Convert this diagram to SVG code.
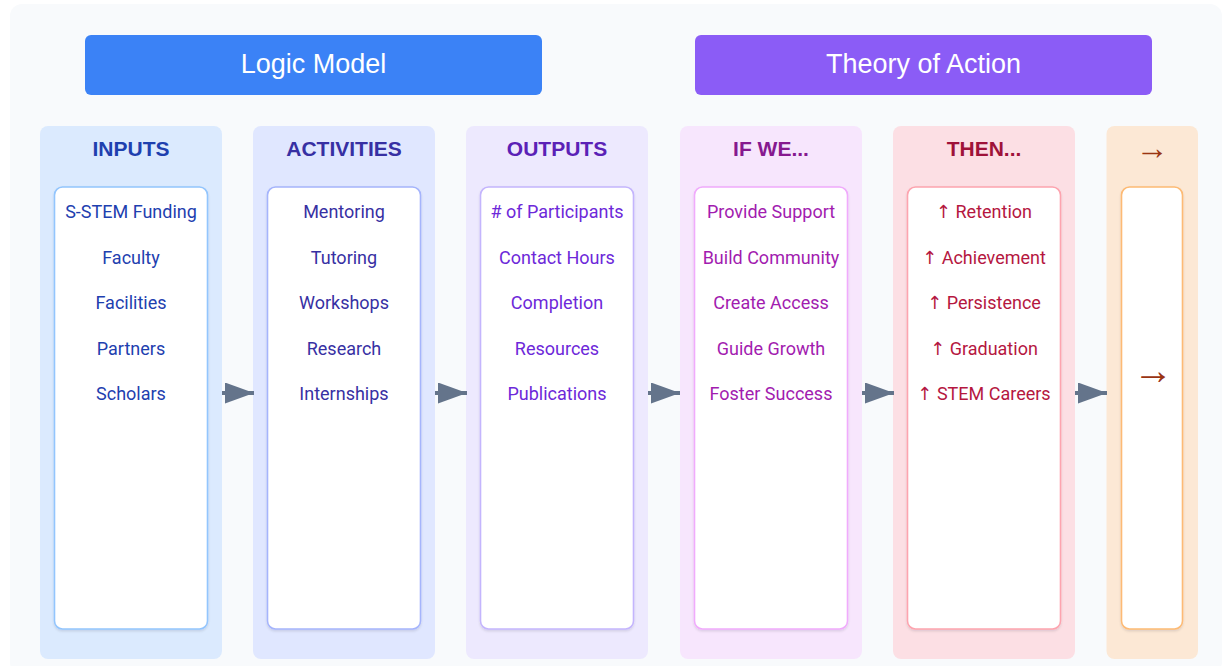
<svg xmlns="http://www.w3.org/2000/svg" width="1223" height="666" viewBox="0 0 1223 666">
  <defs>
    <marker id="arrowhead" markerUnits="userSpaceOnUse" markerWidth="30" markerHeight="21" refX="29" refY="10.5" orient="auto">
      <path d="M0,0 L29,10.5 L0,21 Z" fill="#64748b"/>
    </marker>
    <filter id="cardShadow" x="-10%" y="-5%" width="120%" height="110%">
      <feDropShadow dx="0" dy="1.5" stdDeviation="1" flood-color="#0f172a" flood-opacity="0.12"/>
    </filter>
  </defs>
  <style>
    .banner-text { font-family: "Liberation Sans", Arial, sans-serif; font-size: 27px; fill: #ffffff; text-anchor: middle; }
    .head { font-family: "Liberation Sans", Arial, sans-serif; font-size: 21px; font-weight: bold; text-anchor: middle; }
    .item { font-family: Roboto, "Noto Sans", "DejaVu Sans", sans-serif; font-size: 18px; text-anchor: middle; }
    .glyph-arrow { font-family: "Liberation Sans", Arial, sans-serif; text-anchor: middle; fill: #9a3412; }
    .panel { stroke: none; }
    .card { fill: #ffffff; stroke-width: 1.6; filter: url(#cardShadow); }
    .flow { stroke: #64748b; stroke-width: 4; fill: none; marker-end: url(#arrowhead); }
  </style>

  <!-- page -->
  <rect x="0" y="0" width="1223" height="666" fill="#ffffff"/>
  <rect x="10" y="4" width="1212" height="670" rx="12" fill="#f8fafc"/>

  <!-- section banners -->
  <g id="banner-logic-model">
    <rect x="85" y="35" width="457" height="60" rx="6" fill="#3b82f6"/>
    <text class="banner-text" x="313.5" y="73">Logic Model</text>
  </g>
  <g id="banner-theory-of-action">
    <rect x="695" y="35" width="457" height="60" rx="6" fill="#8b5cf6"/>
    <text class="banner-text" x="923.5" y="73">Theory of Action</text>
  </g>

  <!-- columns -->
  <g id="inputs">
    <rect class="panel" x="40" y="126" width="182" height="533" rx="8" fill="#dbeafe"/>
    <text class="head" x="131" y="156" fill="#1e40af">INPUTS</text>
    <rect class="card" x="54.5" y="187" width="153" height="442" rx="8" stroke="#93c5fd"/>
    <g class="item" fill="#1e40af">
      <text x="131" y="218">S-STEM Funding</text>
      <text x="131" y="263.5">Faculty</text>
      <text x="131" y="309">Facilities</text>
      <text x="131" y="354.5">Partners</text>
      <text x="131" y="400">Scholars</text>
    </g>
  </g>

  <g id="activities">
    <rect class="panel" x="253" y="126" width="182" height="533" rx="8" fill="#e0e7ff"/>
    <text class="head" x="344" y="156" fill="#3730a3">ACTIVITIES</text>
    <rect class="card" x="267.5" y="187" width="153" height="442" rx="8" stroke="#a5b4fc"/>
    <g class="item" fill="#3730a3">
      <text x="344" y="218">Mentoring</text>
      <text x="344" y="263.5">Tutoring</text>
      <text x="344" y="309">Workshops</text>
      <text x="344" y="354.5">Research</text>
      <text x="344" y="400">Internships</text>
    </g>
  </g>

  <g id="outputs">
    <rect class="panel" x="466" y="126" width="182" height="533" rx="8" fill="#ede9fe"/>
    <text class="head" x="557" y="156" fill="#5b21b6">OUTPUTS</text>
    <rect class="card" x="480.5" y="187" width="153" height="442" rx="8" stroke="#c4b5fd"/>
    <g class="item" fill="#6d28d9">
      <text x="557" y="218"># of Participants</text>
      <text x="557" y="263.5">Contact Hours</text>
      <text x="557" y="309">Completion</text>
      <text x="557" y="354.5">Resources</text>
      <text x="557" y="400">Publications</text>
    </g>
  </g>

  <g id="if-we">
    <rect class="panel" x="680" y="126" width="182" height="533" rx="8" fill="#f7e6fd"/>
    <text class="head" x="771" y="156" fill="#86198f">IF WE...</text>
    <rect class="card" x="694.5" y="187" width="153" height="442" rx="8" stroke="#f0abfc"/>
    <g class="item" fill="#a21caf">
      <text x="771" y="218">Provide Support</text>
      <text x="771" y="263.5">Build Community</text>
      <text x="771" y="309">Create Access</text>
      <text x="771" y="354.5">Guide Growth</text>
      <text x="771" y="400">Foster Success</text>
    </g>
  </g>

  <g id="then">
    <rect class="panel" x="893" y="126" width="182" height="533" rx="8" fill="#fcdfe4"/>
    <text class="head" x="984" y="156" fill="#9f1239">THEN...</text>
    <rect class="card" x="907.5" y="187" width="153" height="442" rx="8" stroke="#fda4af"/>
    <g class="item" fill="#b5173f">
      <text x="984" y="218">↑ Retention</text>
      <text x="984" y="263.5">↑ Achievement</text>
      <text x="984" y="309">↑ Persistence</text>
      <text x="984" y="354.5">↑ Graduation</text>
      <text x="984" y="400">↑ STEM Careers</text>
    </g>
  </g>

  <g id="outcome">
    <rect class="panel" x="1106.5" y="126" width="91.5" height="533" rx="8" fill="#fce8d5"/>
    <text class="glyph-arrow" x="1152" y="158.5" font-size="33">→</text>
    <rect class="card" x="1121.5" y="187" width="61" height="442" rx="8" stroke="#fdba74"/>
    <text class="glyph-arrow" x="1153" y="384" font-size="40" font-weight="bold">→</text>
  </g>

  <!-- connectors -->
  <g id="connectors">
    <line class="flow" x1="222" y1="393" x2="254" y2="393"/>
    <line class="flow" x1="435" y1="393" x2="467" y2="393"/>
    <line class="flow" x1="648" y1="393" x2="680" y2="393"/>
    <line class="flow" x1="862" y1="393" x2="894" y2="393"/>
    <line class="flow" x1="1075" y1="393" x2="1107" y2="393"/>
  </g>
</svg>
